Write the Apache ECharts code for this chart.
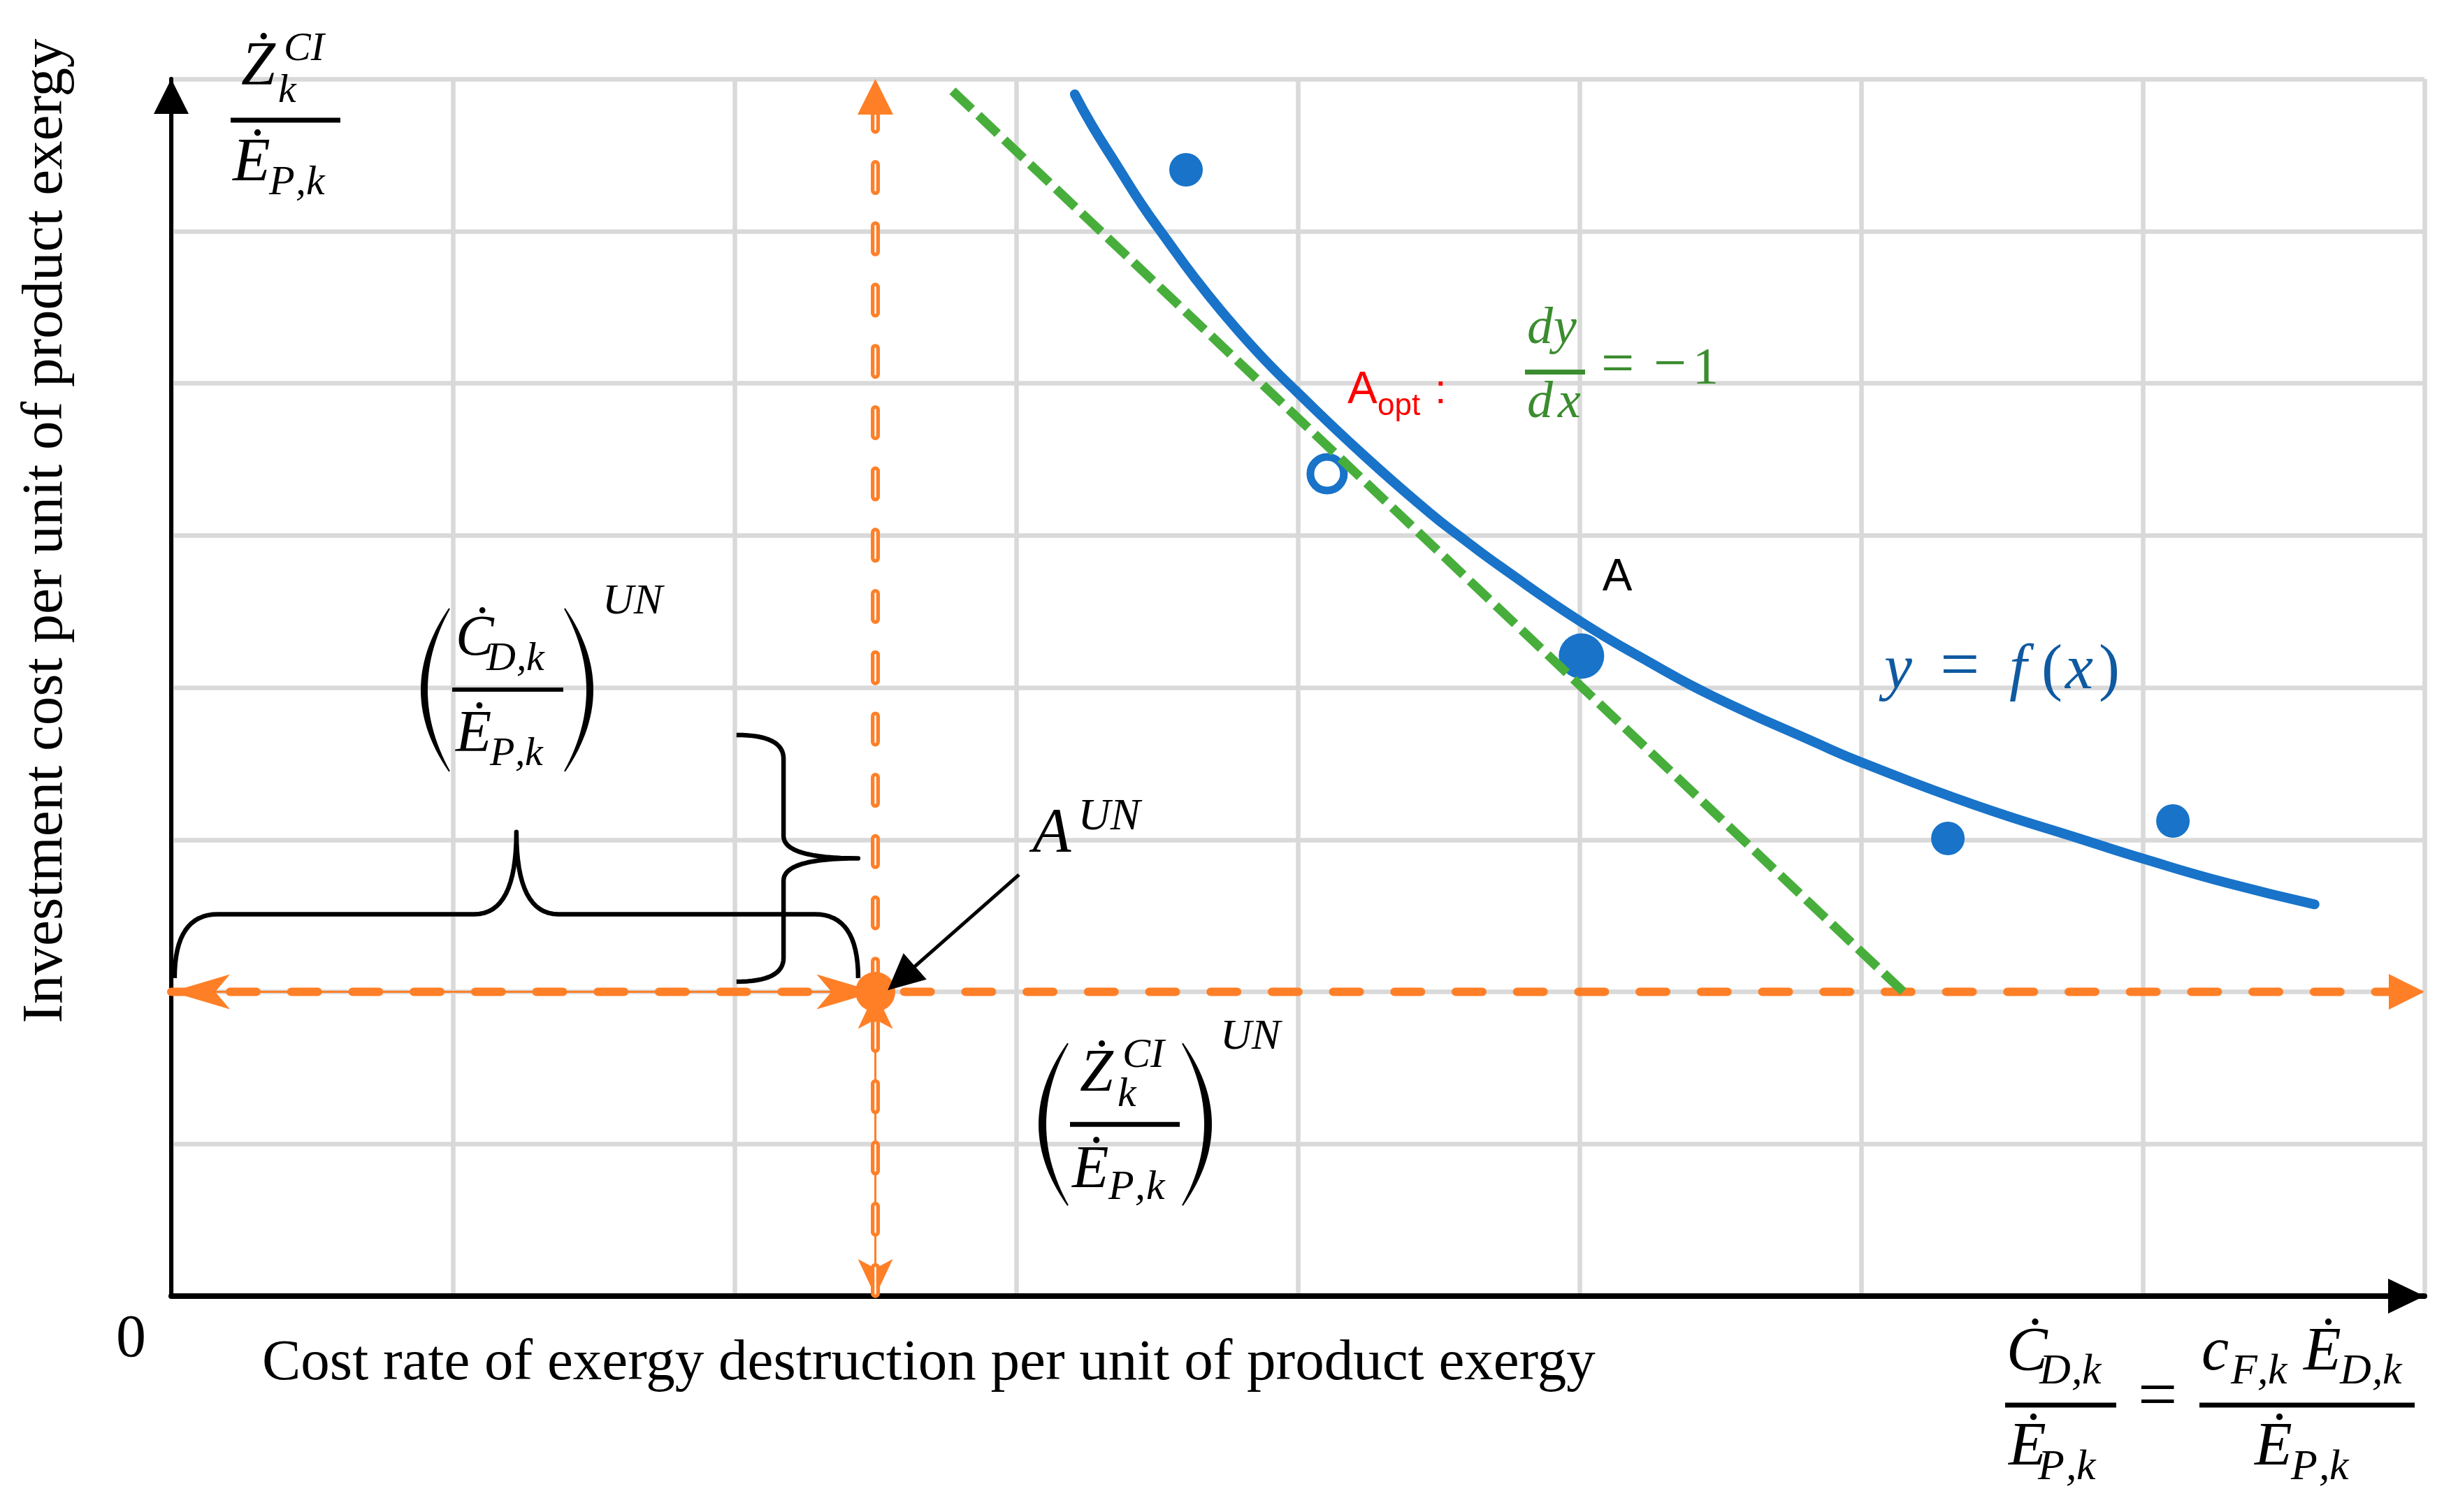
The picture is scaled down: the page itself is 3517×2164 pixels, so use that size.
<!DOCTYPE html>
<html><head><meta charset="utf-8">
<script src="https://cdn.jsdelivr.net/npm/echarts@6/dist/echarts.min.js"></script>
<style>html,body{margin:0;padding:0;background:#fff;}#c{width:3517px;height:2164px;}</style>
</head><body><div id="c"></div>
<script>
// ---------------- data (axis units 0..8) ----------------
const xTicks = [0, 1, 2, 3, 4, 5, 6, 7, 8];
const yTicks = [0, 1, 2, 3, 4, 5, 6, 7, 8];
const curveX = [3.208, 3.270, 3.355, 3.444, 3.536, 3.635, 3.727, 3.859, 3.993, 4.238, 4.467, 4.581, 4.727, 5.007, 5.250, 5.471, 5.844, 6.007, 6.400, 6.787, 7.010, 7.300, 7.610];
const curveY = [7.899, 7.692, 7.440, 7.180, 6.940, 6.690, 6.478, 6.200, 5.950, 5.520, 5.150, 4.985, 4.785, 4.430, 4.165, 3.945, 3.633, 3.504, 3.230, 3.000, 2.870, 2.715, 2.575];
const fittedPoints = [[3.603, 7.403], [6.308, 3.008], [7.107, 3.123]];
const pointA = [[5.007, 4.207]];
const pointAopt = [[4.104, 5.405]];
const pointAUN = [[2.5, 2.0]];
const tangentLine = [[2.774, 7.922], [6.15, 2.0]];
const unavoidableH = [[0, 2], [8, 2]];
const unavoidableV = [[2.5, 0], [2.5, 8]];
// brace over cost axis: x0, x1, yEnd, yBar, yTip
const braceCost = [0.012, 2.439, 2.09, 2.51, 3.05];
// brace beside investment axis: yTop, yBottom, xEnd, xBar, xTip
const braceInvest = [3.688, 2.067, 2.007, 2.174, 2.439];
const arrowAUN = [3.01, 2.77, 2.544, 2.01];
// label anchors (data coords)
const labelAnchors = [[0, 8], [1, 4], [3, 1], [6, 0], [5, 6], [4, 6], pointA[0], pointAUN[0], [6, 4], [0, 0]];

// ---------------- styles ----------------
const ORANGE = '#ff7f27', BLUE = '#1873c9', GREEN = '#47ae3c';
const SERIF = '"Liberation Serif", "Times New Roman", serif';
const SANS = '"Liberation Sans", Arial, sans-serif';

// formula glyph layouts: [kind, text, dx, dyBaseline, size] relative to anchor pixel
const formulas = [
  { color: '#000', items: [['i','Ż',100,14,88],['i','CI',161,-23,58],['i','k',153,37,58],['bar',85,59,242,7],
    ['i','Ė',88,152,88],['i','P',140,170,60],['i',',',178,170,60],['i','k',193,170,60]] },
  { color: '#000', items: [['pl',-5,-45,-113,120,8],['i','Ċ',4,-41,82],['i','D',48,-21,58],['i',',',91,-21,58],['i','k',105,-21,58],
    ['bar',-1,3,158,6],['i','Ė',4,97,84],['i','P',53,115,58],['i',',',89,115,58],['i','k',103,115,58],
    ['pl',160,200,-113,120,-8],['i','UN',214,-101,62]] },
  { color: '#000', items: [['pl',74,33,-144,88,9],['i','Ż',91,-70,86],['i','CI',152,-106,60],['i','k',145,-50,60],
    ['bar',77,-28,234,7],['i','Ė',80,68,86],['i','P',132,83,60],['i',',',170,83,60],['i','k',186,83,60],
    ['pl',238,279,-144,88,-9],['i','UN',292,-131,62]] },
  { color: '#000', items: [['i','Ċ',208,112,88],['i','D',255,130,62],['i',',',301,130,62],['i','k',316,130,62],
    ['bar',206,156,365,7],['i','Ė',211,248,88],['i','P',253,267,62],['i',',',293,267,62],['i','k',308,267,62],
    ['r','=',396,182,100],
    ['i','c',487,112,88],['i','F',529,130,62],['i',',',567,130,62],['i','k',582,130,62],
    ['i','Ė',633,112,88],['i','D',685,130,62],['i',',',731,130,62],['i','k',746,130,62],
    ['bar',484,156,792,7],['i','Ė',563,248,88],['i','P',615,267,62],['i',',',655,267,62],['i','k',670,267,62]] },
  { color: '#3b8c2f', items: [['i','d',-75,-52,74],['i','y',-37,-52,74],['bar',-78,-16,8,7],['i','d',-75,54,74],['i','x',-31,54,74],
    ['r','=',31,6,84],['r','−',106,5,84],['r','1',162,6,74]] },
  { color: '#ff0000', items: [['s','A',71,33,64],['s','opt',114,49,44],['s',':',196,33,60]] },
  { color: '#000', items: [['s','A',30,-89,64]] },
  { color: '#000', items: [['i','A',225,-194,90],['i','UN',290,-228,64]] },
  { color: '#0f5aa0', items: [['i','y',33,8,90],['r','=',113,8,100],['i','f',212,8,90],['r','(',258,8,90],['i','x',292,8,90],['r',')',340,8,90]] },
  { color: '#000', items: [['r','0',-79,93,86],['r','Cost rate of exergy destruction per unit of product exergy',130,125,83],
    ['rot','Investment cost per unit of product exergy',-179,-1095,83]] }
];

// ---------------- helpers ----------------
function quad(p0, c, p1, n) {
  const pts = [];
  for (let i = 0; i <= n; i++) {
    const t = i / n, a = (1 - t) * (1 - t), b = 2 * (1 - t) * t, d = t * t;
    pts.push([a * p0[0] + b * c[0] + d * p1[0], a * p0[1] + b * c[1] + d * p1[1]]);
  }
  return pts;
}
function stealth(T, u, L, W) {
  const n = [-u[1], u[0]];
  return { type: 'polygon', shape: { points: [
    [T[0], T[1]],
    [T[0] - u[0] * L + n[0] * W, T[1] - u[1] * L + n[1] * W],
    [T[0] - u[0] * L * 0.75, T[1] - u[1] * L * 0.75],
    [T[0] - u[0] * L - n[0] * W, T[1] - u[1] * L - n[1] * W]] }, style: { fill: ORANGE } };
}
function tri(T, u, L, W, color) {
  const n = [-u[1], u[0]];
  return { type: 'polygon', shape: { points: [[T[0], T[1]],
    [T[0] - u[0] * L + n[0] * W, T[1] - u[1] * L + n[1] * W],
    [T[0] - u[0] * L - n[0] * W, T[1] - u[1] * L - n[1] * W]] }, style: { fill: color } };
}

function renderUnavoidable(params, api) {
  const a = api.coord([api.value(0), api.value(1)]);
  const b = api.coord([api.value(2), api.value(3)]);
  const kind = api.value(4);
  const dx = b[0] - a[0], dy = b[1] - a[1], len = Math.hypot(dx, dy);
  const u = [dx / len, dy / len];
  const ch = [];
  if (kind === 0 || kind === 1) {
    const end = [b[0] - u[0] * 40, b[1] - u[1] * 40];
    const shape = { x1: a[0], y1: a[1], x2: end[0], y2: end[1] };
    if (kind === 0) {
      ch.push({ type: 'line', shape, style: { stroke: ORANGE, lineWidth: 12, lineDash: [38, 49.7], lineDashOffset: 3.7, lineCap: 'round', fill: null } });
    } else {
      ch.push({ type: 'line', shape, style: { stroke: ORANGE, lineWidth: 13, lineDash: [37, 50.7], lineDashOffset: -3.8, lineCap: 'round', fill: null } });
      ch.push({ type: 'line', shape, style: { stroke: '#fff', lineWidth: 2.5, lineDash: [37, 50.7], lineDashOffset: -3.8, lineCap: 'round', fill: null } });
    }
    ch.push(tri(b, u, 51, 25.5, ORANGE));
  } else {
    const L = kind === 2 ? 84 : 53;
    ch.push({ type: 'line', shape: { x1: a[0], y1: a[1], x2: b[0], y2: b[1] }, style: { stroke: ORANGE, lineWidth: 3, fill: null } });
    ch.push(stealth(b, u, L, 25));
    ch.push(stealth(a, [-u[0], -u[1]], L, 25));
  }
  return { type: 'group', children: ch };
}

function renderBrace(params, api) {
  const kind = api.value(5);
  let pts = [];
  if (kind === 0) {
    const pL = api.coord([api.value(0), api.value(2)]), pR = api.coord([api.value(1), api.value(2)]);
    const YB = api.coord([0, api.value(3)])[1], YT = api.coord([0, api.value(4)])[1];
    const X0 = pL[0], X1 = pR[0], YE = pL[1], Xm = (X0 + X1) / 2;
    pts = pts.concat(quad([X0, YE], [X0, YB], [X0 + 62, YB], 16));
    pts = pts.concat(quad([Xm - 60, YB], [Xm, YB], [Xm, YT], 16));
    pts = pts.concat(quad([Xm, YT], [Xm, YB], [Xm + 60, YB], 16));
    pts = pts.concat(quad([X1 - 62, YB], [X1, YB], [X1, YE], 16));
  } else {
    const pT = api.coord([api.value(2), api.value(0)]), pB = api.coord([api.value(2), api.value(1)]);
    const XB = api.coord([api.value(3), 0])[0], XT = api.coord([api.value(4), 0])[0];
    const XE = pT[0], Y0 = pT[1], Y1 = pB[1], Ym = (Y0 + Y1) / 2;
    pts = pts.concat(quad([XE, Y0], [XB, Y0], [XB, Y0 + 34], 16));
    pts = pts.concat(quad([XB, Ym - 32], [XB, Ym], [XT, Ym], 16));
    pts = pts.concat(quad([XT, Ym], [XB, Ym], [XB, Ym + 32], 16));
    pts = pts.concat(quad([XB, Y1 - 34], [XB, Y1], [XE, Y1], 16));
  }
  return { type: 'polyline', shape: { points: pts }, style: { stroke: '#000', lineWidth: 6.5, fill: null, lineJoin: 'round', lineCap: 'butt' } };
}

function renderArrow(params, api) {
  const s = api.coord([api.value(0), api.value(1)]), t = api.coord([api.value(2), api.value(3)]);
  const dx = t[0] - s[0], dy = t[1] - s[1], len = Math.hypot(dx, dy), u = [dx / len, dy / len];
  return { type: 'group', children: [
    { type: 'line', shape: { x1: s[0], y1: s[1], x2: t[0] - u[0] * 40, y2: t[1] - u[1] * 40 }, style: { stroke: '#000', lineWidth: 5, fill: null } },
    tri(t, u, 52, 25, '#000')] };
}

function renderLabels(params, api) {
  const p = api.coord([api.value(0), api.value(1)]);
  const f = formulas[params.dataIndex];
  const ch = [];
  f.items.forEach(function (it) {
    const k = it[0];
    if (k === 'bar') {
      ch.push({ type: 'line', shape: { x1: p[0] + it[1], y1: p[1] + it[2], x2: p[0] + it[3], y2: p[1] + it[2] }, style: { stroke: f.color, lineWidth: it[4], fill: null } });
    } else if (k === 'pl') {
      const xe = it[1], xb = it[2], yT = it[3], yB = it[4], th = it[5], ym = (yT + yB) / 2;
      const outer = quad([p[0] + xe, p[1] + yT], [p[0] + 2 * xb - xe, p[1] + ym], [p[0] + xe, p[1] + yB], 30);
      const xbi = xb + th;
      const inner = quad([p[0] + xe, p[1] + yB], [p[0] + 2 * xbi - xe, p[1] + ym], [p[0] + xe, p[1] + yT], 30);
      ch.push({ type: 'polygon', shape: { points: outer.concat(inner) }, style: { fill: f.color, stroke: f.color, lineWidth: 2 } });
    } else if (k === 'rot') {
      ch.push({ type: 'text', x: p[0] + it[2], y: p[1] + it[3], rotation: Math.PI / 2,
        style: { text: it[1], fill: f.color, fontSize: it[4], fontFamily: SERIF, fontStyle: 'normal', align: 'center', verticalAlign: 'middle' } });
    } else {
      const size = it[4], mid = k === 's' ? 0.35 : 0.34;
      ch.push({ type: 'text', x: p[0] + it[2], y: p[1] + it[3] - mid * size,
        style: { text: it[1], fill: f.color, fontSize: size, fontFamily: k === 's' ? SANS : SERIF,
          fontStyle: k === 'i' ? 'italic' : 'normal', align: 'left', verticalAlign: 'middle' } });
    }
  });
  return { type: 'group', children: ch };
}

// ---------------- chart ----------------
const chart = echarts.init(document.getElementById('c'));
const axisCommon = {
  type: 'value', interval: 1,
  axisTick: { show: false }, axisLabel: { show: false },
  splitLine: { show: true, lineStyle: { color: '#d9d9d9', width: 6.5 } }
};
chart.setOption({
  animation: false,
  backgroundColor: '#fff',
  grid: { left: 245, right: 48, top: 113, bottom: 309, containLabel: false, outerBoundsMode: 'none' },
  xAxis: Object.assign({}, axisCommon, {
    min: xTicks[0], max: xTicks[xTicks.length - 1],
    axisLine: { show: true, onZero: false, symbol: ['none', 'triangle'], symbolSize: [50, 52], symbolOffset: [0, -26], lineStyle: { color: '#000', width: 8 } }
  }),
  yAxis: Object.assign({}, axisCommon, {
    min: yTicks[0], max: yTicks[yTicks.length - 1],
    axisLine: { show: true, onZero: false, symbol: ['none', 'triangle'], symbolSize: [50, 50], symbolOffset: [0, -25], lineStyle: { color: '#000', width: 6 } }
  }),
  series: [
    { type: 'custom', name: 'unavoidable', z: 2, silent: true, renderItem: renderUnavoidable,
      encode: { x: [0, 2], y: [1, 3] },
      data: [
        [unavoidableH[0][0], unavoidableH[0][1], pointAUN[0][0], pointAUN[0][1], 2],
        [unavoidableV[0][0], unavoidableV[0][1], pointAUN[0][0], pointAUN[0][1], 3],
        [unavoidableH[0][0], unavoidableH[0][1], unavoidableH[1][0], unavoidableH[1][1], 0],
        [unavoidableV[0][0], unavoidableV[0][1], unavoidableV[1][0], unavoidableV[1][1], 1]
      ] },
    { type: 'scatter', name: 'points', z: 3, silent: true, symbol: 'circle', symbolSize: 48,
      itemStyle: { color: BLUE, opacity: 1 }, data: fittedPoints },
    { type: 'scatter', name: 'A', z: 3, silent: true, symbol: 'circle', symbolSize: 65,
      itemStyle: { color: BLUE, opacity: 1 }, data: pointA },
    { type: 'scatter', name: 'Aopt', z: 3, silent: true, symbol: 'circle', symbolSize: 48,
      itemStyle: { color: '#fff', borderColor: BLUE, borderWidth: 11, opacity: 1 }, data: pointAopt },
    { type: 'line', name: 'f(x)', z: 4, silent: true, smooth: 0.5, showSymbol: false, symbol: 'none',
      lineStyle: { color: BLUE, width: 14, cap: 'round' },
      data: curveX.map(function (x, i) { return [x, curveY[i]]; }) },
    { type: 'line', name: 'tangent', z: 5, silent: true, showSymbol: false, symbol: 'none',
      lineStyle: { color: GREEN, width: 13, type: [38, 13] }, data: tangentLine },
    { type: 'scatter', name: 'AUN', z: 6, silent: true, symbol: 'circle', symbolSize: 57,
      itemStyle: { color: ORANGE, opacity: 1 }, data: pointAUN },
    { type: 'custom', name: 'braces', z: 7, silent: true, renderItem: renderBrace, encode: { x: 0, y: 2 },
      data: [braceCost.concat([0]), braceInvest.concat([1])] },
    { type: 'custom', name: 'arrowAUN', z: 7, silent: true, renderItem: renderArrow, encode: { x: [0, 2], y: [1, 3] },
      data: [arrowAUN] },
    { type: 'custom', name: 'labels', z: 8, silent: true, renderItem: renderLabels, data: labelAnchors }
  ]
});
</script></body></html>
